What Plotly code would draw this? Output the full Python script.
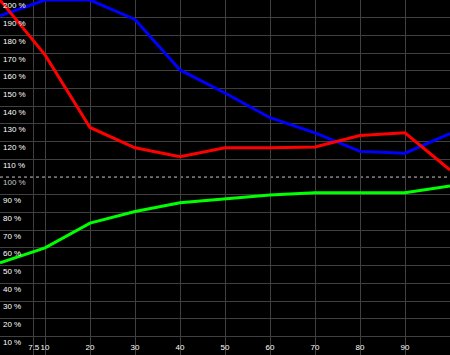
import plotly.graph_objects as go

x_vals = [0, 10, 20, 30, 40, 50, 60, 70, 80, 90, 100]
blue_vals = [191, 200, 200, 189, 160.5, 147.5, 133.5, 125, 114.5, 113.5, 124.5]
red_vals = [200, 169, 128, 116.5, 111.5, 116.5, 116.5, 117, 123.5, 125, 104]
green_vals = [51.5, 60, 74, 80.5, 85.5, 87.5, 89.8, 91.2, 91.2, 91.2, 95]

x_ticks = [7.5, 10, 20, 30, 40, 50, 60, 70, 80, 90]
x_tick_text = ["7.5", "10", "20", "30", "40", "50", "60", "70", "80", "90"]
y_ticks = [10, 20, 30, 40, 50, 60, 70, 80, 90, 110, 120, 130, 140, 150, 160, 170, 180, 190, 200]
y_tick_text = [f"{v} %" for v in y_ticks]
ref_level = 100

fig = go.Figure()
for vals, col in [(blue_vals, "#0000ff"), (red_vals, "#ff0000"), (green_vals, "#00ff00")]:
    fig.add_trace(go.Scatter(x=x_vals, y=vals, mode="lines",
                             line=dict(color=col, width=3), showlegend=False))

fig.add_shape(type="line", xref="paper", x0=0, x1=1, yref="y", y0=ref_level, y1=ref_level,
              line=dict(color="#c8c8c8", width=1, dash="dot"), layer="below")
fig.add_annotation(x=0, xref="paper", y=ref_level, yref="y", text=f"{ref_level} %",
                   showarrow=False, xanchor="left", yanchor="top", xshift=1, yshift=1,
                   font=dict(family="Liberation Sans", size=8, color="#c8c8c8"))

fig.update_layout(
    width=450, height=355,
    margin=dict(l=0, r=0, t=0, b=0),
    paper_bgcolor="#000000", plot_bgcolor="#000000",
    font=dict(family="Liberation Sans", size=8, color="#c8c8c8"),
    xaxis=dict(range=[0, 100], tickvals=x_ticks, ticktext=x_tick_text, tickangle=0,
               ticklabelposition="inside", showgrid=True, gridcolor="#404040",
               gridwidth=1, zeroline=False, showline=False, ticks=""),
    yaxis=dict(range=[-0.5, 200], tickvals=y_ticks, ticktext=y_tick_text,
               ticklabelposition="inside bottom", showgrid=True, gridcolor="#404040",
               gridwidth=1, zeroline=False, showline=False, ticks=""),
)
fig.write_html("out.html")
